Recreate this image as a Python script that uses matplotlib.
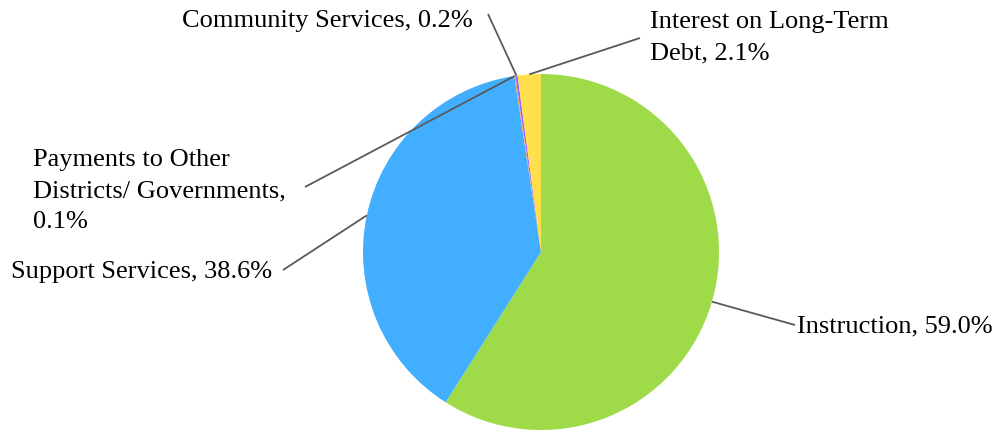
import matplotlib.pyplot as plt
import numpy as np

# expense shares, in percent, clockwise from 12 o'clock
labels = ["Instruction", "Support Services", "Payments to Other\nDistricts/ Governments,\n",
          "Community Services", "Interest on Long-Term\nDebt"]
values = [59.0, 38.6, 0.1, 0.2, 2.1]
colors = ["#9FDB48", "#41AEFF", "#FF9F40", "#9966FF", "#FFE04B"]

plt.rcParams['font.family'] = ['Liberation Serif', 'DejaVu Serif']

W, H = 998, 430
fig = plt.figure(figsize=(W / 100, H / 100), dpi=100)
ax = fig.add_axes([0, 0, 1, 1])

cx, cy, r = 541, H - 252, 178
wedges, _ = ax.pie(values, colors=colors, startangle=90, counterclock=False,
                   center=(cx, cy), radius=r, frame=True,
                   wedgeprops=dict(linewidth=0))
ax.set_xlim(0, W)
ax.set_ylim(0, H)
ax.set_aspect('equal')
ax.axis('off')

# label text, anchor (pixel coords from top-left), alignment, leader end
label_text = [
    "Instruction, 59.0%",
    "Support Services, 38.6%",
    "Payments to Other\nDistricts/ Governments,\n0.1%",
    "Community Services, 0.2%",
    "Interest on Long-Term\nDebt, 2.1%",
]
text_pos = [(797, 326, 'left'), (272, 272, 'right'), (33, 191, 'left'),
            (473, 21, 'right'), (650, 38, 'left')]
line_end = [(795, 325), (283, 270), (305, 187), (488, 14), (640, 38)]

for w, txt, (tx, ty, ha), (lx, ly) in zip(wedges, label_text, text_pos, line_end):
    mid = np.deg2rad((w.theta1 + w.theta2) / 2)
    px, py = cx + r * np.cos(mid), cy + r * np.sin(mid)
    ax.plot([px, lx], [py, H - ly], color="#595959", lw=1.3, solid_capstyle='butt')
    ax.text(tx, H - ty, txt, ha=ha, va='center', fontsize=19, linespacing=1.55,
            color="black")

fig.savefig("out.png", dpi=100)
